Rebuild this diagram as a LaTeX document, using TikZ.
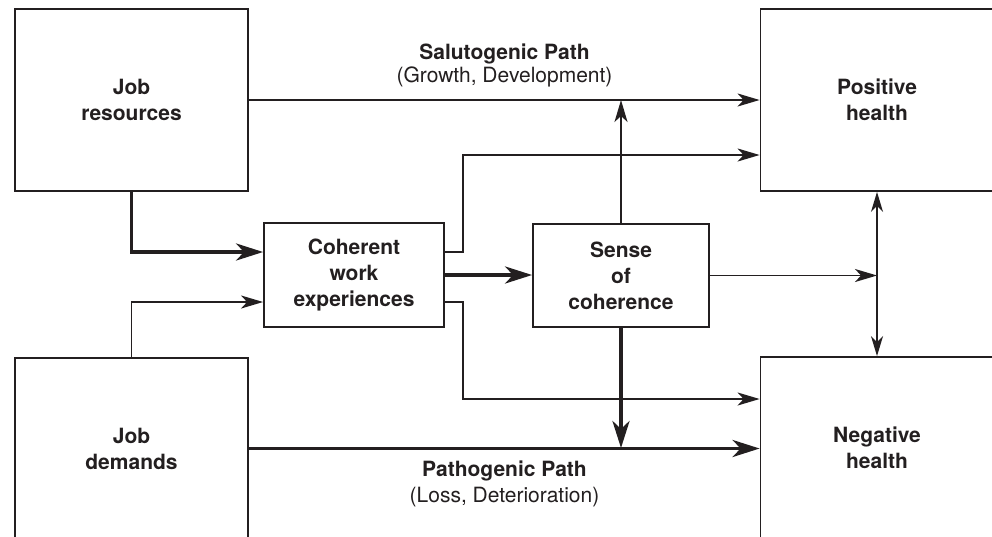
\documentclass[tikz,border=0pt]{standalone}
\usepackage{fontspec}
\setmainfont{TeX Gyre Heros}
\usetikzlibrary{arrows.meta,calc}
\definecolor{ink}{RGB}{35,31,32}
\begin{document}
\begin{tikzpicture}[x=1pt,y=-1pt,
  box/.style={draw=ink,line width=1.8pt,rectangle,align=center,text=ink,
    font=\fontsize{21pt}{26pt}\selectfont\bfseries,inner sep=0pt},
  thin/.style={draw=ink,line width=1.8pt,-{Stealth[length=22pt,width=13pt,inset=6pt]}},
  thick/.style={draw=ink,line width=3.8pt,-{Stealth[length=27pt,width=17pt,inset=8pt]}},
  both/.style={draw=ink,line width=1.8pt,{Stealth[length=20pt,width=12pt,inset=6pt]}-{Stealth[length=20pt,width=12pt,inset=6pt]}},
  lbl/.style={text=ink,font=\fontsize{21pt}{26pt}\selectfont,anchor=base,inner sep=0pt},
  lblb/.style={lbl,font=\fontsize{21pt}{26pt}\selectfont\bfseries}]
\useasboundingbox (0,0) rectangle (992,536);
\clip (0,0) rectangle (992,536);
\fill[white] (0,0) rectangle (992,536);

\node[box,minimum width=233pt,minimum height=182pt] (jr) at (131.5,100) {Job\\resources};
\node[box,minimum width=233pt,minimum height=182pt] (ph) at (877,100) {Positive\\health};
\node[box,minimum width=233pt,minimum height=181pt] (jd) at (131.5,448.5) {Job\\demands};
\node[box,minimum width=233pt,minimum height=182pt] (nh) at (877,448) {Negative\\health};
\node[box,minimum width=180pt,minimum height=104pt] (cwe) at (354,275) {Coherent\\work\\experiences};
\node[box,minimum width=176pt,minimum height=103pt] (soc) at (621,275.5) {Sense\\of\\coherence};

\coordinate (junc) at (soc.east -| ph.south);

% salutogenic path
\draw[thin] (jr.east) -- (ph.west);
\node[lblb] (salA) at (504.5,59) {Salutogenic Path};
\node[lbl] (salB) at (504.5,82) {(Growth, Development)};

% pathogenic path
\draw[thick] (jd.east) -- (jd.east -| nh.west);
\node[lblb] (patA) at (504.5,476) {Pathogenic Path};
\node[lbl] (patB) at (504.5,502) {(Loss, Deterioration)};

% into coherent work experiences
\draw[thick] (jr.south) |- ([yshift=23pt]cwe.west);
\draw[thin] (jd.north) |- ([yshift=-27pt]cwe.west);

% out of coherent work experiences
\draw[thick] (cwe.east) -- (cwe.east -| soc.west);
\draw[thin] ([yshift=23pt]cwe.east) -- ++(18,0) |- ([yshift=-55pt]ph.west);
\draw[thin] ([yshift=-27pt]cwe.east) -- ++(18,0) |- ([yshift=49pt]nh.west);

% out of sense of coherence
\draw[thin] (soc.north) -- (soc.north |- ph.west);
\draw[thick] (soc.south) -- (soc.south |- nh.west);
\draw[thin] (soc.east) -- (junc);

% between health outcomes
\draw[both] (ph.south) -- (nh.north);
\end{tikzpicture}
\end{document}
